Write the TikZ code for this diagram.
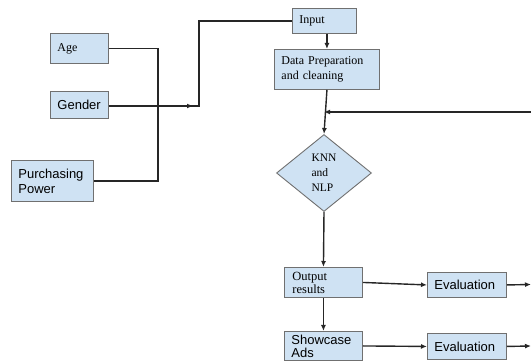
\documentclass[tikz,border=0pt]{standalone}
\usepackage{fontspec}
\setmainfont{Liberation Serif}
\newfontfamily\arial{Liberation Sans}
\usepackage{xcolor}
\usepackage{tikz}
\usetikzlibrary{shapes.geometric,arrows.meta}
\definecolor{boxfill}{HTML}{CFE2F3}
\definecolor{boxline}{HTML}{707070}
\definecolor{wire}{HTML}{262626}

\begin{document}
\begin{tikzpicture}[x=1pt,y=-1pt,
            >={Latex[length=6pt,width=5pt]},
            blk/.style={shape=rectangle, draw=boxline, fill=boxfill, line width=0.9pt,
                        anchor=north west, inner xsep=7pt, inner ysep=0pt, align=left},
            serif/.style={font=\fontsize{12}{15}\selectfont},
            sans/.style={font=\arial\fontsize{13}{15}\selectfont},
            wires/.style={draw=wire, line width=1.4pt}]
        \useasboundingbox (0,0) rectangle (531,363);

        % inputs on the left
        \node[blk,serif,text width=44pt,minimum height=30pt] (age) at (50,33) {Age};
        \node[blk,sans,text width=44pt,minimum height=27pt] (gender) at (50,91) {Gender};
        \node[blk,sans,text width=68pt,minimum height=41pt] (power) at (11,160) {Purchasing\\Power};

        % main column
        \node[blk,serif,text width=50pt,minimum height=25pt] (input) at (292,8) {Input};
        \node[blk,serif,text width=91pt,minimum height=40pt] (prep) at (274,49) {Data Preparation\\and cleaning};
        \node[shape=diamond, draw=boxline, fill=boxfill, line width=0.9pt, inner sep=0pt,
              minimum width=95pt, minimum height=77pt, align=left,
              font=\fontsize{11.5}{15}\selectfont] (knn) at (324,173) {KNN\\and\\NLP};
        \node[blk,serif,text width=62pt,inner xsep=8pt,minimum height=30pt,
              font=\fontsize{12.5}{13}\selectfont] (out) at (284,267) {Output\\results};
        \node[blk,sans,text width=64pt,minimum height=29pt,
              font=\arial\fontsize{13}{13}\selectfont] (show) at (284,331) {Showcase\\Ads};
        \node[blk,sans,text width=65pt,minimum height=25pt] (eval1) at (427,272) {Evaluation};
        \node[blk,sans,text width=65pt,minimum height=26pt] (eval2) at (427,333) {Evaluation};

        \coordinate (bus) at (158,106);
        \coordinate (bend) at (199,106);
        \coordinate (fb) at (531,112);
        \coordinate (end1) at (531,284.5);
        \coordinate (end2) at (531,346);

        % wires
        \draw[wires] (age.east) -| (bus) |- (power.east);
        \draw[wires] (gender.east |- bus) -- (bend) |- (input.west);
        \draw[wires,->] (gender.east |- bus) -- ([xshift=-6pt]bend);
        \draw[wires,->] (input.south -| prep.north) -- (prep.north);
        \draw[wires,->] (prep.south) -- (knn.north);
        \draw[wires,->] (fb) -- (fb -| knn.north);
        \draw[wires,->] (knn.south) -- (out.north);
        \draw[wires,->] (out.south) -- (show.north);
        \draw[wires,->] (out.east) -- (eval1.west);
        \draw[wires,->] (show.east) -- (eval2.west);
        \draw[wires,->] (eval1.east) -- (end1);
        \draw[wires,->] (eval2.east) -- (end2);
    \end{tikzpicture}
\end{document}
